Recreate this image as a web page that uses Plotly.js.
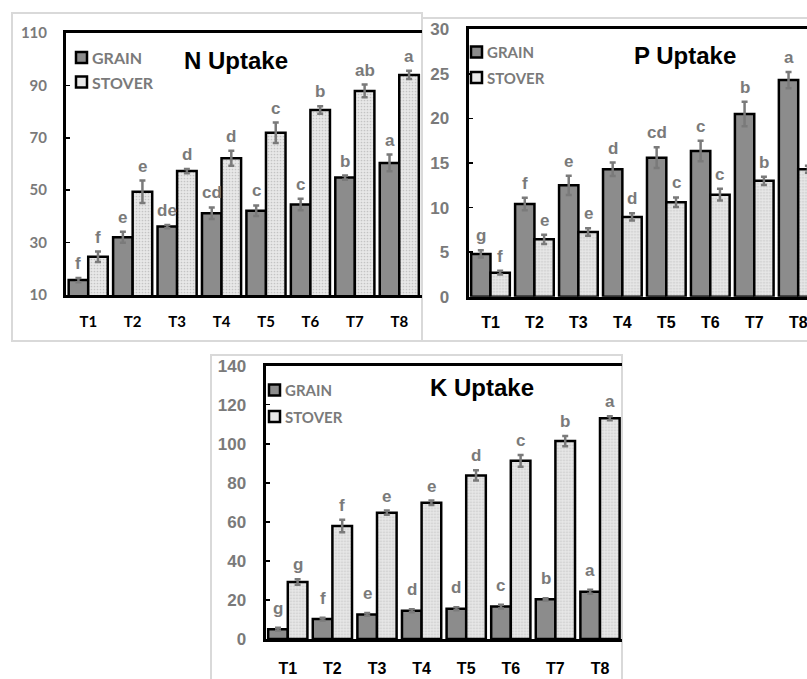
<!DOCTYPE html>
<html>
<head>
<meta charset="utf-8">
<script src="https://cdn.plot.ly/plotly-3.0.1.min.js"></script>
<style>html,body{margin:0;padding:0;background:#fff;}#chart{width:807px;height:679px;}</style>
</head>
<body>
<div id="chart"></div>
<script>
// ---------- data ----------
const categories = ['T1','T2','T3','T4','T5','T6','T7','T8'];

const nGrain       = [15.7, 32.0, 36.1, 41.2, 42.2, 44.5, 54.8, 60.4];
const nGrainErr    = [0.8, 2.1, 0.6, 2.2, 2.0, 2.2, 0.8, 3.2];
const nStover      = [24.6, 49.4, 57.3, 62.2, 71.9, 80.6, 87.9, 94.0];
const nStoverErr   = [2.0, 4.3, 0.8, 2.9, 3.9, 1.4, 2.4, 1.6];
const nGrainLetters  = ['f','e','de','cd','c','c','b','a'];
const nStoverLetters = ['f','e','d','d','c','b','ab','a'];

const pGrain       = [4.8, 10.4, 12.5, 14.3, 15.6, 16.35, 20.5, 24.3];
const pGrainErr    = [0.41, 0.69, 1.08, 0.75, 1.16, 1.16, 1.37, 0.9];
const pStover      = [2.7, 6.44, 7.26, 8.95, 10.6, 11.45, 13.0, 14.3];
const pStoverErr   = [0.2, 0.52, 0.41, 0.41, 0.54, 0.65, 0.47, 0.4];
const pGrainLetters  = ['g','f','e','d','cd','c','b','a'];
const pStoverLetters = ['f','e','e','d','c','c','b','a'];

const kGrain       = [5.0, 10.2, 12.6, 14.5, 15.5, 16.6, 20.3, 24.2];
const kGrainErr    = [0.7, 0.7, 0.7, 0.8, 0.8, 1.0, 0.6, 1.0];
const kStover      = [29.2, 57.9, 64.7, 69.8, 83.8, 91.3, 101.4, 113.1];
const kStoverErr   = [1.45, 3.2, 1.1, 1.1, 2.6, 3.0, 2.6, 1.0];
const kGrainLetters  = ['g','f','e','d','d','c','b','a'];
const kStoverLetters = ['g','f','e','e','d','c','b','a'];

const seriesNames = ['GRAIN','STOVER'];
const panelTitles = ['N Uptake','P Uptake','K Uptake'];

// ---------- styling ----------
const W = 807, H = 679;
const PX = v => v / W;
const PY = v => 1 - v / H;
const GRAIN_COLOR = '#8c8c8c';
const STOVER_BG = '#e8e8e8';
const STOVER_FG = '#c4c4c4';
const LABEL_GRAY = '#7a7a7a';
const ARIAL = 'Liberation Sans, Arial, sans-serif';
const LATO = 'Lato, Liberation Sans, sans-serif';
const BARGAP = 0.12;
const HALF = (1 - BARGAP) / 4;

function barTrace(vals, errs, isStover, xa, ya, name) {
  const t = {
    type: 'bar', x: categories, y: vals, name: name,
    xaxis: xa, yaxis: ya, showlegend: false,
    marker: { color: isStover ? STOVER_BG : GRAIN_COLOR, line: { color: '#000', width: 2.5 } },
    error_y: { type: 'data', array: errs, visible: true, color: '#7a7a7a', thickness: 2.5, width: 3 },
    hoverinfo: 'skip'
  };
  if (isStover) {
    t.marker.pattern = { shape: '.', bgcolor: STOVER_BG, fgcolor: STOVER_FG, size: 3, solidity: 0.25, fillmode: 'replace' };
  }
  return t;
}

const data = [
  barTrace(nGrain, nGrainErr, false, 'x', 'y', seriesNames[0]),
  barTrace(nStover, nStoverErr, true, 'x', 'y', seriesNames[1]),
  barTrace(pGrain, pGrainErr, false, 'x2', 'y2', seriesNames[0]),
  barTrace(pStover, pStoverErr, true, 'x2', 'y2', seriesNames[1]),
  barTrace(kGrain, kGrainErr, false, 'x3', 'y3', seriesNames[0]),
  barTrace(kStover, kStoverErr, true, 'x3', 'y3', seriesNames[1])
];

const annotations = [];
function letters(vals, errs, labs, offset, xref, yref, yshift) {
  labs.forEach((l, i) => {
    annotations.push({
      x: i + offset, y: vals[i] + errs[i], xref: xref, yref: yref,
      text: '<b>' + l + '</b>', showarrow: false, yanchor: 'bottom', yshift: yshift,
      font: { family: ARIAL, size: 17, color: LABEL_GRAY }
    });
  });
}
letters(nGrain, nGrainErr, nGrainLetters, -HALF, 'x', 'y', 3);
letters(nStover, nStoverErr, nStoverLetters, HALF, 'x', 'y', 3);
letters(pGrain, pGrainErr, pGrainLetters, -HALF, 'x2', 'y2', 3);
letters(pStover, pStoverErr, pStoverLetters, HALF, 'x2', 'y2', 3);
letters(kGrain, kGrainErr, kGrainLetters, -HALF, 'x3', 'y3', 8);
letters(kStover, kStoverErr, kStoverLetters, HALF, 'x3', 'y3', 3);

// panel titles
[[235.5, 60], [684.7, 55], [482, 387]].forEach((p, i) => {
  annotations.push({
    x: PX(p[0]), y: PY(p[1]), xref: 'paper', yref: 'paper', text: '<b>' + panelTitles[i] + '</b>',
    showarrow: false, xanchor: 'center', yanchor: 'middle',
    font: { family: ARIAL, size: 24, color: '#000' }
  });
});

// legends (swatch + label), one per panel
const shapes = [];
function legendBlock(x0, yG, yS, textX, fs) {
  const s = 11;
  shapes.push({ type: 'rect', xref: 'paper', yref: 'paper', x0: PX(x0), x1: PX(x0 + s), y0: PY(yG - s/2), y1: PY(yG + s/2), fillcolor: GRAIN_COLOR, line: { color: '#000', width: 2.5 } });
  shapes.push({ type: 'rect', xref: 'paper', yref: 'paper', x0: PX(x0), x1: PX(x0 + s), y0: PY(yS - s/2), y1: PY(yS + s/2), fillcolor: STOVER_BG, line: { color: '#000', width: 2.5 } });
  [[yG, seriesNames[0]], [yS, seriesNames[1]]].forEach(a => {
    annotations.push({ x: PX(textX), y: PY(a[0]), xref: 'paper', yref: 'paper', text: '<b>' + a[1] + '</b>', showarrow: false,
      xanchor: 'left', yanchor: 'middle', font: { family: LATO, size: fs, color: LABEL_GRAY } });
  });
}
legendBlock(76, 57.5, 82, 89.5, 16);
legendBlock(471, 52, 77.5, 484.5, 15);
legendBlock(269, 390, 416.5, 282.5, 15);

// light gray frames around each panel
const frame = { color: '#d9d9d9', width: 2 };
shapes.push({ type: 'rect', xref: 'paper', yref: 'paper', x0: PX(12), x1: PX(422), y0: PY(13), y1: PY(341), line: frame, layer: 'below' });
shapes.push({ type: 'rect', xref: 'paper', yref: 'paper', x0: PX(422), x1: PX(815), y0: PY(18), y1: PY(341), line: frame, layer: 'below' });
shapes.push({ type: 'rect', xref: 'paper', yref: 'paper', x0: PX(211), x1: PX(622), y0: PY(355), y1: PY(690), line: frame, layer: 'below' });

function xAxis(domain, range, anchor, font, standoff) {
  return {
    domain: domain, range: range, anchor: anchor, type: 'category',
    showline: true, linecolor: '#000', linewidth: 3, mirror: true,
    ticks: '', showgrid: false, zeroline: false, fixedrange: true,
    tickfont: font, ticklabelstandoff: standoff
  };
}
function yAxis(domain, range, dtick, anchor, font) {
  return {
    domain: domain, range: range, dtick: dtick, tick0: range[0], anchor: anchor,
    showline: true, linecolor: '#000', linewidth: 3, mirror: false,
    ticks: 'inside', ticklen: 4, tickwidth: 1.5, tickcolor: '#000',
    showgrid: false, zeroline: false, fixedrange: true,
    tickfont: font, ticklabelstandoff: 13
  };
}

const layout = {
  width: W, height: H,
  margin: { l: 0, r: 0, t: 0, b: 0 },
  paper_bgcolor: '#fff', plot_bgcolor: 'rgba(0,0,0,0)',
  showlegend: false,
  barmode: 'group', bargap: BARGAP, bargroupgap: 0,
  xaxis:  xAxis([PX(66), PX(421.5)], [-0.5, 7.5], 'y',  { family: LATO, size: 15, color: '#000', weight: 'bold' }, 11),
  yaxis:  yAxis([PY(295), PY(33)], [10, 110], 20, 'x', { family: LATO, size: 15, color: LABEL_GRAY, weight: 'bold' }),
  xaxis2: xAxis([PX(468.5), 1], [-0.5, 7.2], 'y2', { family: ARIAL, size: 16, color: '#000', weight: 'bold' }, 9),
  yaxis2: yAxis([PY(296.7), PY(29.3)], [0, 30], 5, 'x2', { family: ARIAL, size: 17, color: LABEL_GRAY, weight: 'bold' }),
  xaxis3: xAxis([PX(265.5), PX(622.3)], [-0.5, 7.5], 'y3', { family: ARIAL, size: 16, color: '#000', weight: 'bold' }, 13),
  yaxis3: yAxis([PY(639), PY(365.7)], [0, 140], 20, 'x3', { family: ARIAL, size: 17, color: LABEL_GRAY, weight: 'bold' }),
  annotations: annotations,
  shapes: shapes
};

Plotly.newPlot('chart', data, layout, { displayModeBar: false, staticPlot: true });
</script>
</body>
</html>
